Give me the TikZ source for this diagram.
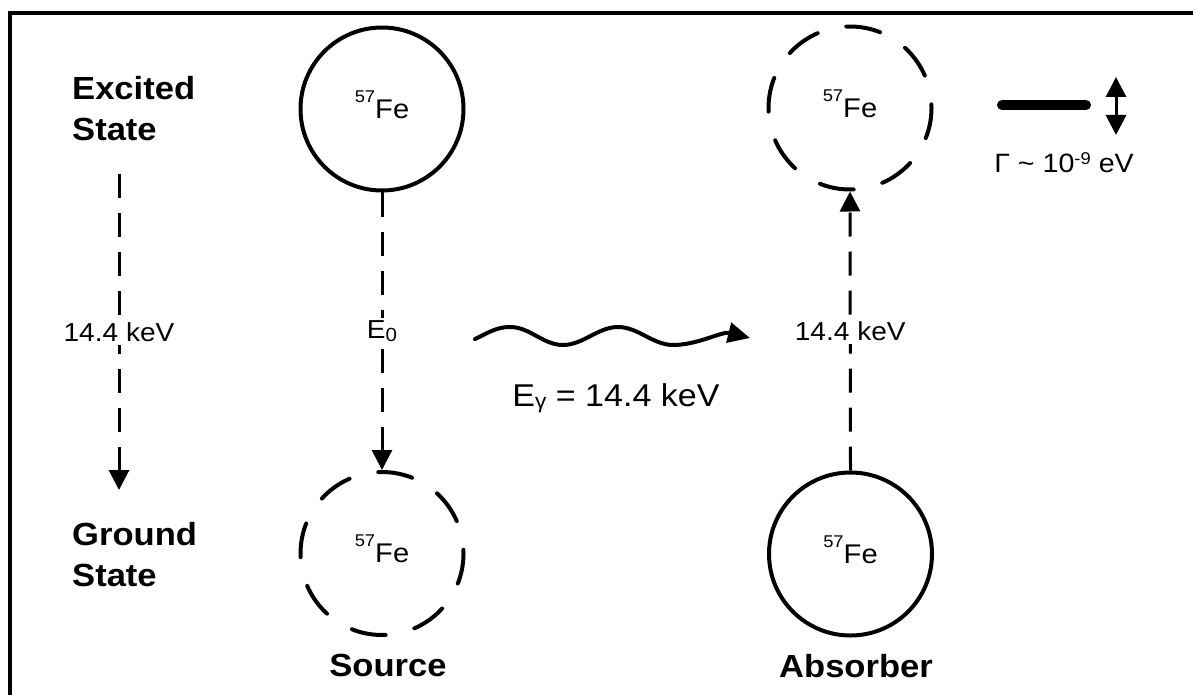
\documentclass[tikz,border=0pt]{standalone}
\usepackage{fontspec}
\setmainfont{Liberation Sans}[FakeStretch=1.08]
\usetikzlibrary{arrows.meta}
\newcommand\supiso[1]{\smash{\raisebox{16pt}{\fontsize{17}{17}\selectfont #1}}}
\newcommand\shiftsub[3]{\raisebox{#1}{\fontsize{#2}{#2}\selectfont #3}}
\begin{document}
\begin{tikzpicture}[x=1pt,y=-1pt,
  atom/.style={circle, draw, line width=4pt, minimum size=163pt, inner sep=0pt,
    font=\fontsize{27}{27}\selectfont},
  atomdash/.style={atom, line cap=round, dash pattern=on 34.4pt off 29.6pt, dash phase=30.7pt},
  level/.style={dash pattern=on 24pt off 15pt, line width=3pt},
  tipdown/.style={-{Triangle[width=20pt,length=20pt]}},
  bigtip/.style={-{Triangle[width=20pt,length=22pt]}},
  lbl/.style={font=\fontsize{26}{26}\selectfont, fill=white, inner sep=3pt},
  statelbl/.style={font=\fontsize{32}{41}\selectfont\bfseries, align=left, anchor=north west, inner sep=0pt},
  role/.style={font=\fontsize{32}{32}\selectfont\bfseries, anchor=base, inner sep=0pt}
]
\useasboundingbox (0,0) rectangle (1193,695);
% frame
\draw[line width=4pt] (10,695) -- (10,13) -- (1193,13);

% state labels
\node[statelbl] (exc) at (72,76) {Excited\\State};
\node[statelbl] (gnd) at (72,522) {Ground\\State};

% atoms
\node[atom] (srcE) at (382,109) {\supiso{57}Fe};
\node[atomdash] (srcG) at (382,553.5) {\supiso{57}Fe};
\node[atomdash] (absE) at (850,108) {\supiso{57}Fe};
\node[atom] (absG) at (850.5,554) {\supiso{57}Fe};

% level transitions
\coordinate (lT) at (119,174);
\coordinate (lB) at (119,490);
\draw[level, tipdown] (lT) -- node[lbl] (kl) {14.4 keV} (lB);
\draw[level, tipdown] (srcE.south) -- node[lbl] (e0) {E\shiftsub{-3pt}{19}{0}} (srcG.north);
\draw[level, tipdown] (absG.north) -- node[lbl] (kr) {14.4 keV} (absE.south);

% gamma ray
\coordinate (wS) at (475,339);
\coordinate (wE) at (750,338);
\draw[line width=4pt, line cap=round, bigtip] (wS)
  .. controls (488,333) and (496,327) .. (510,327)
  .. controls (530,327) and (543,345) .. (563,345)
  .. controls (583,345) and (598,327) .. (618,327)
  .. controls (638,327) and (653,345) .. (673,345)
  .. controls (698,345) and (722,331) .. (wE);
\node[font=\fontsize{31.5}{31.5}\selectfont, anchor=base, inner sep=0pt] (eg) at (616,406)
  {E\shiftsub{-2pt}{21}{γ} = 14.4 keV};

% line width
\coordinate (bL) at (1002,105);
\coordinate (bR) at (1086,105);
\draw[line width=10pt, line cap=round] (bL) -- (bR);
\coordinate (dT) at (1116,77);
\coordinate (dB) at (1116,135);
\draw[line width=3pt, {Triangle[width=20pt,length=20pt]}-{Triangle[width=20pt,length=20pt]}] (dT) -- (dB);
\node[font=\fontsize{26.5}{26.5}\selectfont, anchor=base, inner sep=0pt] (gam) at (1064,173)
  {Γ \textasciitilde{} 10\shiftsub{8pt}{17}{-9} eV};

% roles
\node[role] (src) at (388,676) {Source};
\node[role] (abs) at (856,677) {Absorber};
\end{tikzpicture}
\end{document}
